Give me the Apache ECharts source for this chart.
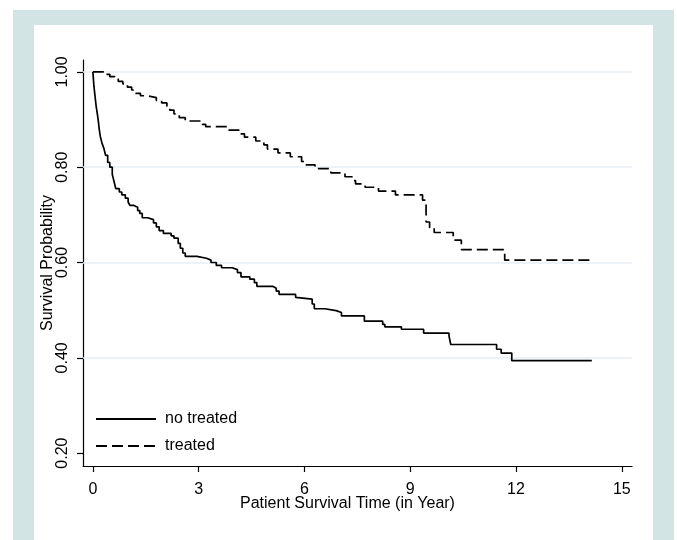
<!DOCTYPE html>
<html>
<head>
<meta charset="utf-8">
<script src="https://cdn.jsdelivr.net/npm/echarts@6/dist/echarts.min.js"></script>
<style>
  html, body { margin: 0; padding: 0; background: #fff; }
  #chart { width: 677px; height: 540px; }
</style>
</head>
<body>
<div id="chart"></div>
<script>
// Kaplan-Meier estimates (time in years, survival prob.)
const noTreatedTime = [0, 0.03, 0.06, 0.09, 0.12, 0.15, 0.18, 0.21, 0.26, 0.31, 0.36, 0.42, 0.48, 0.55, 0.6, 0.65, 0.75, 0.82, 0.92, 1.0, 1.05, 1.15, 1.27, 1.33, 1.4, 1.55, 1.72, 1.8, 1.88, 2.0, 2.22, 2.3, 2.42, 2.48, 2.55, 2.62, 2.95, 3.22, 3.35, 3.5, 3.65, 3.95, 4.1, 4.2, 4.45, 4.58, 4.65, 5.1, 5.2, 5.28, 5.75, 5.8, 6.22, 6.28, 6.58, 6.9, 7.05, 7.7, 8.22, 8.28, 8.75, 9.38, 10.1, 10.15, 11.45, 11.58, 11.88, 14.15]
const noTreatedSurv = [1.0, 0.97, 0.95, 0.93, 0.915, 0.9, 0.88, 0.865, 0.85, 0.84, 0.825, 0.81, 0.8, 0.785, 0.77, 0.755, 0.748, 0.742, 0.735, 0.727, 0.72, 0.716, 0.709, 0.703, 0.694, 0.69, 0.683, 0.675, 0.667, 0.661, 0.656, 0.651, 0.64, 0.63, 0.62, 0.613, 0.609, 0.605, 0.6, 0.594, 0.589, 0.585, 0.579, 0.57, 0.565, 0.558, 0.55, 0.546, 0.54, 0.533, 0.527, 0.523, 0.513, 0.503, 0.499, 0.495, 0.488, 0.477, 0.47, 0.465, 0.46, 0.452, 0.446, 0.428, 0.418, 0.41, 0.394, 0.394]

const treatedTime = [0, 0.35, 0.48, 0.62, 0.72, 0.85, 0.98, 1.1, 1.18, 1.35, 1.55, 1.8, 1.95, 2.1, 2.18, 2.3, 2.45, 2.62, 3.1, 3.2, 3.8, 4.18, 4.3, 4.62, 4.85, 4.95, 5.25, 5.6, 5.92, 6.0, 6.3, 6.75, 7.15, 7.35, 7.45, 7.72, 8.1, 8.58, 9.35, 9.45, 9.55, 9.68, 10.22, 10.45, 11.68, 14.2]
const treatedSurv = [1.0, 0.995, 0.99, 0.985, 0.98, 0.975, 0.968, 0.962, 0.955, 0.95, 0.946, 0.94, 0.935, 0.928, 0.92, 0.912, 0.904, 0.897, 0.89, 0.885, 0.878, 0.87, 0.863, 0.855, 0.847, 0.838, 0.83, 0.822, 0.812, 0.805, 0.797, 0.788, 0.78, 0.772, 0.765, 0.758, 0.75, 0.742, 0.731, 0.685, 0.673, 0.663, 0.647, 0.627, 0.605, 0.605]

const xTicks = [0, 3, 6, 9, 12, 15]
const yTicks = [0.2, 0.4, 0.6, 0.8, 1.0]
const yGridLines = [0.4, 0.6, 0.8, 1.0]

const fontFamily = '"Liberation Sans", Arial, Helvetica, sans-serif'

const chart = echarts.init(document.getElementById('chart'))

chart.setOption({
  animation: false,
  backgroundColor: '#ffffff',
  textStyle: { fontFamily: fontFamily, color: '#000' },
  graphic: [
    { type: 'rect', z: -100, silent: true, shape: { x: 13, y: 10, width: 661, height: 530 }, style: { fill: '#d3e4e4' } },
    { type: 'rect', z: -99, silent: true, shape: { x: 34, y: 25, width: 619, height: 515 }, style: { fill: '#ffffff' } }
  ],
  grid: {
    left: 83,
    right: 45,
    top: 60,
    bottom: 74,
    containLabel: false
  },
  legend: {
    orient: 'vertical',
    left: 95,
    top: 411,
    padding: 0,
    itemWidth: 60,
    itemHeight: 14,
    itemGap: 11,
    itemStyle: { opacity: 0 },
    textStyle: { fontSize: 16, color: '#000', fontFamily: fontFamily, padding: [0, 0, 0, 4] },
    data: ['no treated', 'treated']
  },
  xAxis: {
    type: 'value',
    min: -0.28,
    max: 15.29,
    name: 'Patient Survival Time (in Year)',
    nameLocation: 'middle',
    nameMoveOverlap: false,
    nameGap: 30,
    nameTextStyle: { fontSize: 16, color: '#000', fontFamily: fontFamily, padding: [0, 20, 0, 0] },
    axisLine: { onZero: false, lineStyle: { color: '#000', width: 1.2 } },
    axisTick: { show: true, inside: false, length: 6, customValues: xTicks, lineStyle: { color: '#000', width: 1.2 } },
    axisLabel: { customValues: xTicks, margin: 16, fontSize: 16, color: '#000', fontFamily: fontFamily },
    splitLine: { show: false }
  },
  yAxis: {
    type: 'value',
    min: 0.173,
    max: 1.025,
    name: 'Survival Probability',
    nameLocation: 'middle',
    nameMoveOverlap: false,
    nameGap: 27,
    nameTextStyle: { fontSize: 16, color: '#000', fontFamily: fontFamily },
    axisLine: { show: true, onZero: false, lineStyle: { color: '#000', width: 1.2 } },
    axisTick: { show: true, inside: false, length: 6, customValues: yTicks, lineStyle: { color: '#000', width: 1.2 } },
    axisLabel: {
      customValues: yTicks,
      rotate: 90,
      margin: 12,
      fontSize: 16,
      color: '#000',
      fontFamily: fontFamily,
      formatter: v => v.toFixed(2)
    },
    splitLine: { show: false }
  },
  series: [
    {
      name: 'no treated',
      type: 'line',
      step: 'end',
      symbol: 'none',
      color: '#000',
      lineStyle: { color: '#000', width: 1.7, type: 'solid' },
      data: noTreatedTime.map((t, i) => [t, noTreatedSurv[i]]),
      markLine: {
        silent: true,
        symbol: 'none',
        label: { show: false },
        lineStyle: { color: '#e6eef2', width: 1.6, type: 'solid' },
        z: 1,
        data: yGridLines.map(v => ({ yAxis: v }))
      },
      z: 3
    },
    {
      name: 'treated',
      type: 'line',
      step: 'end',
      symbol: 'none',
      color: '#000',
      lineStyle: { color: '#000', width: 1.7, type: [11, 5] },
      data: treatedTime.map((t, i) => [t, treatedSurv[i]]),
      z: 3
    }
  ]
})
</script>
</body>
</html>
